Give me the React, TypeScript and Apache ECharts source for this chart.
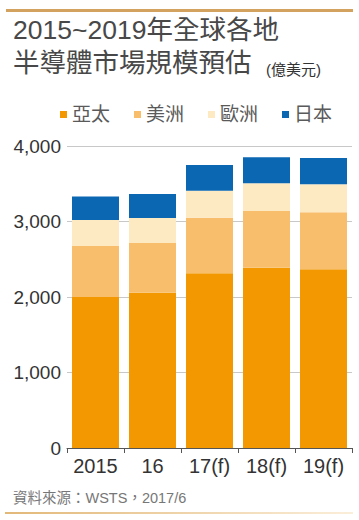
import React, { useEffect, useRef } from "react";
import * as echarts from "echarts";

const categories = ["2015", "16", "17(f)", "18(f)", "19(f)"];
const seriesNames = ["亞太", "美洲", "歐洲", "日本"];
const asiaPacific = [2000, 2057, 2314, 2388, 2367];
const americas = [675, 658, 736, 751, 755];
const europe = [345, 331, 358, 367, 370];
const japan = [310, 318, 340, 344, 349];
const seriesColors = ["#F39800", "#F8BE6C", "#FDE9C2", "#0B67B2"];
const titleLine1 = "2015~2019年全球各地";
const titleLine2 = "半導體市場規模預估";
const unitText = "(億美元)";
const sourceText = "資料來源：WSTS，2017/6";

const LATIN = "'Liberation Sans', 'Noto Sans CJK TC', sans-serif";
const CJK = "'Liberation Sans', 'Noto Sans CJK TC', sans-serif";

export default function App() {
  const ref = useRef<HTMLDivElement>(null);
  useEffect(() => {
    document.body.style.margin = "0";
    const chart = echarts.init(ref.current!, null, { renderer: "svg" });
    const values = [asiaPacific, americas, europe, japan];
    chart.setOption({
      animation: false,
      backgroundColor: "#ffffff",
      grid: { left: 67, right: 7, top: 146, bottom: 72, containLabel: false },
      legend: {
        data: seriesNames,
        top: 100,
        left: 55,
        icon: "rect",
        itemWidth: 7,
        itemHeight: 7,
        itemGap: 24,
        textStyle: { fontSize: 19, color: "#5a5a5a", fontFamily: CJK },
      },
      xAxis: {
        type: "category",
        data: categories,
        axisLine: { lineStyle: { color: "#555", width: 1 } },
        axisTick: { show: true, length: 5, lineStyle: { color: "#555" } },
        axisLabel: { interval: 0, fontSize: 20, color: "#333", margin: 8, fontFamily: LATIN },
      },
      yAxis: {
        type: "value",
        min: 0,
        max: 4000,
        interval: 1000,
        axisLine: { show: false },
        axisTick: { show: false },
        axisLabel: {
          fontSize: 19,
          color: "#333",
          margin: 6,
          fontFamily: LATIN,
          formatter: (v: number) => v.toLocaleString("en-US"),
        },
        splitLine: { lineStyle: { color: "#c8c8c8", width: 1 } },
      },
      series: seriesNames.map((name, i) => ({
        name,
        type: "bar",
        stack: "total",
        barWidth: 47,
        data: values[i],
        itemStyle: { color: seriesColors[i] },
      })),
      graphic: [
        {
          type: "line",
          shape: { x1: 6, y1: 10.5, x2: 353, y2: 10.5 },
          style: { stroke: "#D3A25E", lineWidth: 3 },
        },
        {
          type: "text",
          x: 13,
          y: 30,
          style: {
            text: titleLine1,
            font: `26.5px ${CJK}`,
            fill: "#484848",
            verticalAlign: "middle",
          },
        },
        {
          type: "text",
          x: 13,
          y: 63,
          style: {
            text: titleLine2,
            font: `26.5px ${CJK}`,
            fill: "#484848",
            verticalAlign: "middle",
          },
        },
        {
          type: "text",
          x: 266,
          y: 69,
          style: {
            text: unitText,
            font: `15px ${CJK}`,
            fill: "#333",
            verticalAlign: "middle",
          },
        },
        {
          type: "text",
          x: 13,
          y: 498,
          style: {
            text: sourceText,
            font: `14.5px ${CJK}`,
            fill: "#777",
            verticalAlign: "middle",
          },
        },
        {
          type: "rect",
          shape: { x: 5, y: 512, width: 348, height: 2 },
          style: {
            fill: new echarts.graphic.LinearGradient(0, 0, 1, 0, [
              { offset: 0, color: "#E2B878" },
              { offset: 1, color: "#FBEEDA" },
            ]),
          },
        },
      ],
    });
    return () => chart.dispose();
  }, []);
  return (
    <div
      ref={ref}
      style={{ position: "absolute", left: 0, top: 0, width: 359, height: 520 }}
    />
  );
}
